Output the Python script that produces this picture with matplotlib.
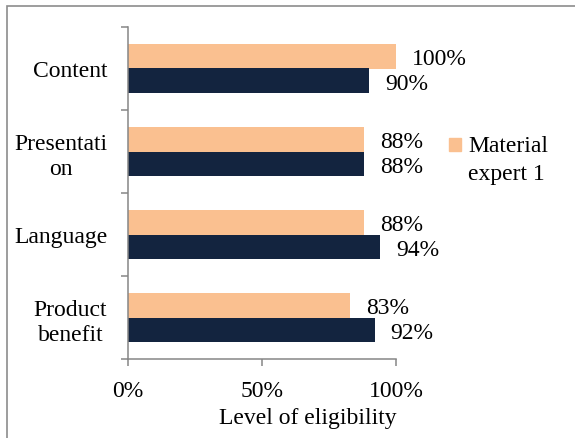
import matplotlib
matplotlib.use("Agg")
import matplotlib.pyplot as plt
from matplotlib.patches import Rectangle, Patch
from matplotlib.legend_handler import HandlerPatch

categories = ["Content", "Presentati\non", "Language", "Product\nbenefit"]
expert1 = [100, 88, 88, 83]
expert2 = [90, 88, 94, 92]
series_names = ["Material\nexpert 1", "Material\nexpert 2"]
xticks = [0, 50, 100]
xtick_labels = ["0%", "50%", "100%"]

PEACH = "#FAC090"
NAVY = "#13243F"
GRAY = "#868686"
FS = 17

plt.rcParams["font.family"] = ["Liberation Serif", "DejaVu Serif"]

W, H = 575, 439
fig = plt.figure(figsize=(W / 100, H / 100), dpi=100)
ax = fig.add_axes([128 / W, 1 - 360 / H, (396 - 128) / W, (360 - 28) / H])

n = len(categories)
ypos = [n - 1 - i for i in range(n)]
bh = 0.29
b1 = ax.barh([y + bh / 2 for y in ypos], expert1, height=bh, color=PEACH, label=series_names[0])
b2 = ax.barh([y - bh / 2 for y in ypos], expert2, height=bh, color=NAVY, label=series_names[1])

for bars, vals in ((b1, expert1), (b2, expert2)):
    for rect, v in zip(bars, vals):
        ax.annotate(f"{v}%", (v, rect.get_y() + rect.get_height() / 2),
                    xytext=(11.5, 0), textcoords="offset points",
                    ha="left", va="center_baseline", fontsize=FS)

ax.set_xlim(0, 100)
ax.set_ylim(-0.5, n - 0.5)
ax.set_xticks(xticks)
ax.set_xticklabels(xtick_labels, fontsize=FS)
ax.set_yticks([y for y in ypos])
ax.set_yticklabels(categories, fontsize=FS, multialignment="center", linespacing=1.25)
ax.set_yticks([y + 0.5 for y in range(-1, n)], minor=True)
ax.tick_params(axis="y", which="major", length=0, pad=15)
ax.tick_params(axis="y", which="minor", length=5, width=1.1, color=GRAY, direction="out")
ax.tick_params(axis="x", length=5, width=1.1, color=GRAY, direction="out", pad=10)
for s in ("top", "right"):
    ax.spines[s].set_visible(False)
for s in ("left", "bottom"):
    ax.spines[s].set_color(GRAY)
    ax.spines[s].set_linewidth(1.1)

fig.text(308 / W, 1 - 424 / H, "Level of eligibility", ha="center", va="baseline", fontsize=FS)


def top_square(legend, orig_handle, xdescent, ydescent, width, height, fontsize):
    return Rectangle((-xdescent, -ydescent + 10.5), width, height)


leg = fig.legend(handles=[Patch(color=PEACH)], labels=[series_names[0]],
                 loc="upper left", bbox_to_anchor=(449 / W, 1 - 136 / H),
                 frameon=False, fontsize=FS, handlelength=0.5, handleheight=0.5,
                 handletextpad=0.3, borderpad=0, borderaxespad=0,
                 handler_map={Patch: HandlerPatch(patch_func=top_square)})
for t in leg.get_texts():
    t.set_linespacing(1.45)

fig.patches.append(Rectangle((7 / W, -0.2), 1.5, 1.2 - 7 / H, transform=fig.transFigure,
                             fill=False, edgecolor="#8c8c8c", linewidth=1.2))

fig.savefig("out.png", dpi=100)
